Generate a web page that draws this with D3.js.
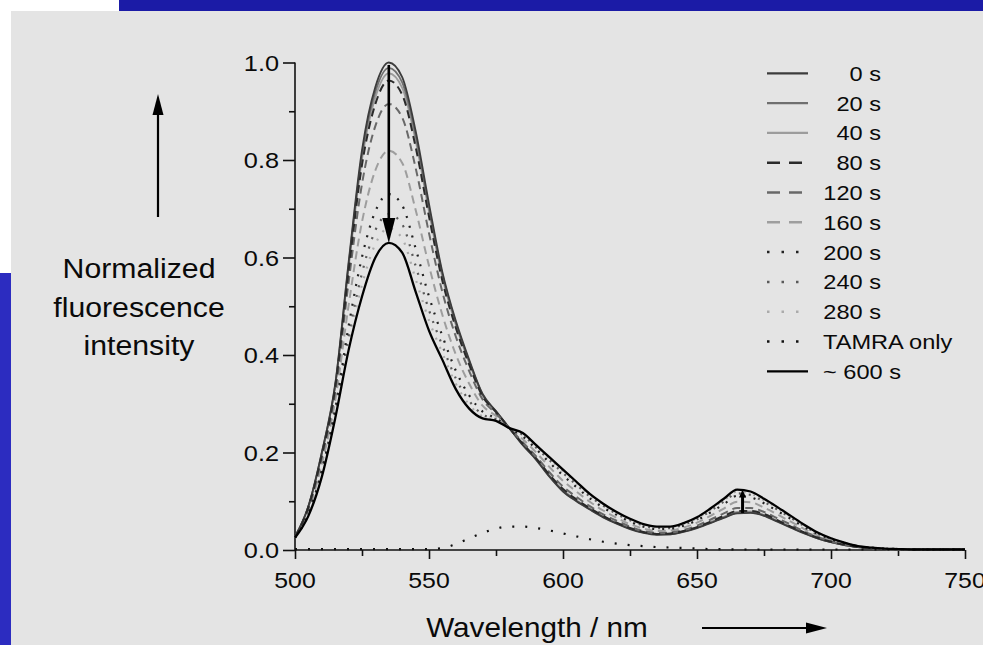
<!DOCTYPE html>
<html>
<head>
<meta charset="utf-8">
<script src="https://cdn.jsdelivr.net/npm/d3@7/dist/d3.min.js"></script>
<style>
  html, body { margin: 0; padding: 0; background: #ffffff; }
  svg { display: block; }
  text { font-family: "Liberation Sans", Arial, Helvetica, sans-serif; fill: #0a0a0a; }
</style>
</head>
<body>
<svg id="chart" width="983" height="645"></svg>
<script>
// ---------------- DATA ----------------
const wavelengths = [500,505,510,515,520,525,530,535,540,545,
                     550,555,560,565,570,575,580,585,590,595,
                     600,605,610,615,620,625,630,635,640,645,
                     650,655,660,665,670,675,680,685,690,695,
                     700,705,710,715,720,725,730,735,740,745,750];

const s0 = [0.027,0.090,0.200,0.340,0.590,0.820,0.950,1.000,0.970,0.860,
            0.710,0.570,0.470,0.390,0.320,0.285,0.250,0.215,0.185,0.150,
            0.120,0.100,0.083,0.067,0.054,0.043,0.035,0.031,0.032,0.037,
            0.045,0.055,0.066,0.075,0.076,0.070,0.058,0.046,0.034,0.024,
            0.016,0.010,0.006,0.004,0.002,0.001,0.001,0.001,0.001,0.001,0.001];
const s20 = [0.027,0.089,0.199,0.338,0.585,0.811,0.940,0.989,0.959,0.850,
             0.702,0.565,0.466,0.387,0.319,0.284,0.250,0.216,0.186,0.151,
             0.121,0.101,0.084,0.068,0.055,0.044,0.036,0.032,0.032,0.038,
             0.046,0.056,0.067,0.076,0.077,0.071,0.059,0.047,0.035,0.024,
             0.016,0.010,0.006,0.004,0.002,0.001,0.001,0.001,0.001,0.001,0.001];
const s40 = [0.027,0.089,0.197,0.336,0.579,0.802,0.929,0.978,0.948,0.840,
             0.694,0.559,0.462,0.384,0.317,0.284,0.250,0.217,0.187,0.152,
             0.123,0.102,0.085,0.069,0.055,0.044,0.036,0.032,0.033,0.038,
             0.046,0.057,0.068,0.078,0.079,0.072,0.060,0.047,0.035,0.025,
             0.016,0.010,0.006,0.004,0.002,0.001,0.001,0.001,0.001,0.001,0.001];
const s80 = [0.027,0.088,0.195,0.333,0.572,0.790,0.915,0.963,0.934,0.827,
             0.684,0.552,0.456,0.380,0.315,0.283,0.250,0.218,0.188,0.154,
             0.125,0.104,0.086,0.070,0.056,0.045,0.037,0.033,0.034,0.039,
             0.047,0.058,0.070,0.080,0.080,0.074,0.061,0.048,0.036,0.025,
             0.017,0.011,0.006,0.004,0.002,0.001,0.001,0.001,0.001,0.001,0.001];
const s120 = [0.027,0.085,0.189,0.324,0.549,0.751,0.870,0.915,0.887,0.784,
              0.650,0.529,0.438,0.367,0.309,0.280,0.250,0.221,0.192,0.159,
              0.130,0.109,0.090,0.073,0.060,0.048,0.039,0.035,0.036,0.041,
              0.050,0.062,0.075,0.086,0.086,0.078,0.065,0.052,0.038,0.027,
              0.018,0.011,0.006,0.004,0.002,0.001,0.001,0.001,0.001,0.001,0.001];
const s160 = [0.026,0.080,0.176,0.306,0.502,0.673,0.779,0.819,0.794,0.698,
              0.583,0.482,0.401,0.341,0.296,0.275,0.250,0.227,0.200,0.170,
              0.142,0.120,0.099,0.081,0.066,0.053,0.044,0.039,0.040,0.046,
              0.056,0.070,0.085,0.099,0.098,0.087,0.073,0.058,0.043,0.030,
              0.020,0.012,0.007,0.004,0.002,0.001,0.001,0.001,0.001,0.001,0.001];
const s200 = [0.026,0.075,0.164,0.289,0.459,0.601,0.695,0.730,0.707,0.619,
              0.520,0.439,0.368,0.317,0.284,0.270,0.250,0.233,0.207,0.179,
              0.153,0.129,0.106,0.087,0.072,0.058,0.048,0.043,0.044,0.050,
              0.061,0.077,0.094,0.111,0.108,0.096,0.080,0.064,0.047,0.033,
              0.022,0.014,0.007,0.005,0.003,0.002,0.001,0.001,0.001,0.001,0.001];
const s240 = [0.025,0.073,0.158,0.281,0.439,0.568,0.656,0.689,0.668,0.583,
              0.492,0.419,0.352,0.306,0.278,0.268,0.250,0.236,0.210,0.184,
              0.158,0.134,0.110,0.091,0.074,0.061,0.050,0.045,0.045,0.052,
              0.063,0.080,0.099,0.116,0.113,0.099,0.083,0.066,0.049,0.034,
              0.023,0.014,0.008,0.005,0.003,0.002,0.001,0.001,0.001,0.001,0.001];
const s280 = [0.025,0.072,0.154,0.276,0.424,0.544,0.628,0.660,0.639,0.556,
              0.471,0.404,0.341,0.298,0.274,0.267,0.250,0.238,0.213,0.187,
              0.161,0.137,0.112,0.093,0.076,0.062,0.052,0.047,0.047,0.054,
              0.065,0.083,0.102,0.120,0.116,0.102,0.086,0.068,0.051,0.035,
              0.024,0.015,0.008,0.005,0.003,0.002,0.001,0.001,0.001,0.001,0.001];
const sTamra = [0.002,0.002,0.002,0.002,0.002,0.002,0.002,0.002,0.002,0.002,
                0.002,0.004,0.012,0.024,0.035,0.044,0.048,0.048,0.045,0.040,
                0.034,0.028,0.022,0.017,0.013,0.010,0.008,0.006,0.005,0.004,
                0.003,0.002,0.002,0.001,0.001,0.001,0.001,0.001,0.001,0.001,
                0.001,0.001,0.001,0.001,0.001,0.001,0.001,0.001,0.001,0.001,0.001];
const s600 = [0.025,0.070,0.150,0.270,0.410,0.520,0.600,0.630,0.610,0.530,
              0.450,0.390,0.330,0.290,0.270,0.265,0.250,0.240,0.215,0.190,
              0.165,0.140,0.115,0.095,0.078,0.064,0.053,0.048,0.048,0.055,
              0.067,0.085,0.105,0.124,0.120,0.105,0.088,0.070,0.052,0.036,
              0.024,0.015,0.008,0.005,0.003,0.002,0.001,0.001,0.001,0.001,0.001];

const seriesNames = ["0 s","20 s","40 s","80 s","120 s","160 s","200 s","240 s","280 s","TAMRA only","~ 600 s"];
const seriesValues = [s0,s20,s40,s80,s120,s160,s200,s240,s280,sTamra,s600];

const xTickValues = [500,550,600,650,700,750];
const xMinorTicks = [525,575,625,675,725];
const yTickValues = [0.0,0.2,0.4,0.6,0.8,1.0];
const yMinorTicks = [0.1,0.3,0.5,0.7,0.9];
const yTickLabels = ["0.0","0.2","0.4","0.6","0.8","1.0"];
const xTickLabels = ["500","550","600","650","700","750"];

// arrows in data units (wavelength, start value, end value)
const peakArrow = {w: 535, from: 0.995, to: 0.63};
const redArrow  = {w: 667, from: 0.076, to: 0.124};

// ---------------- STYLES ----------------
const styles = [
  {color:"#3c3c3c", type:"solid",  width:1.8},
  {color:"#6f6f6f", type:"solid",  width:1.8},
  {color:"#9c9c9c", type:"solid",  width:1.8},
  {color:"#2a2a2a", type:"dash",   width:2.0},
  {color:"#686868", type:"dash",   width:2.0},
  {color:"#9e9e9e", type:"dash",   width:2.0},
  {color:"#222222", type:"dot",    width:2.2},
  {color:"#5a5a5a", type:"dot",    width:2.2},
  {color:"#ababab", type:"dot",    width:2.2},
  {color:"#111111", type:"tdot",   width:2.2},
  {color:"#000000", type:"solid",  width:2.3}
];
const curveDash = {solid:null, dash:"8,5", dot:"2,8", tdot:"2,11"};
const legendDash = {solid:null, dash:"13,9", dot:"2.5,12", tdot:"2.5,12"};

// ---------------- DRAW ----------------
const svg = d3.select("#chart");
const FONT_SX = 1.15;

function stext(g, x, y, str, size, anchor, sx) {
  return g.append("text")
    .attr("transform", `translate(${x},${y}) scale(${sx},1)`)
    .attr("text-anchor", anchor)
    .style("font-size", size + "px")
    .text(str);
}

// page frame
svg.append("rect").attr("x",0).attr("y",0).attr("width",983).attr("height",645).attr("fill","#ffffff");
svg.append("rect").attr("x",119).attr("y",0).attr("width",864).attr("height",11).attr("fill","#1b1ba6");
svg.append("rect").attr("x",0).attr("y",273).attr("width",11).attr("height",372).attr("fill","#2c2cc0");
svg.append("rect").attr("x",11).attr("y",11).attr("width",972).attr("height",634).attr("fill","#e4e4e4");

const x = d3.scaleLinear().domain([500,750]).range([295,965]);
const y = d3.scaleLinear().domain([0,1]).range([550,62.5]);

// axes
const axG = svg.append("g");
const yAxis = d3.axisLeft(y).tickValues(yTickValues).tickSize(12).tickFormat("");
const yAxisMinor = d3.axisLeft(y).tickValues(yMinorTicks).tickSize(6).tickFormat("");
const xAxis = d3.axisBottom(x).tickValues(xTickValues).tickSize(9).tickFormat("");
const xAxisMinor = d3.axisBottom(x).tickValues(xMinorTicks).tickSize(6).tickFormat("");

const gy = axG.append("g").attr("transform", `translate(${x(500)},0)`).call(yAxis);
const gym = axG.append("g").attr("transform", `translate(${x(500)},0)`).call(yAxisMinor);
const gx = axG.append("g").attr("transform", `translate(0,${y(0)})`).call(xAxis);
const gxm = axG.append("g").attr("transform", `translate(0,${y(0)})`).call(xAxisMinor);
[gy,gym,gx,gxm].forEach(g => {
  g.selectAll("path.domain").attr("stroke","#111").attr("stroke-width",1.6);
  g.selectAll(".tick line").attr("stroke","#111").attr("stroke-width",1.6);
});
gym.select("path.domain").remove();
gxm.select("path.domain").remove();
// y axis domain: plain vertical line
gy.select("path.domain").attr("d", `M0,${y(1)}V${y(0)}`);
gx.select("path.domain").attr("d", `M${x(500)},0H${x(750)}`);

// tick labels
yTickValues.forEach((v,i) => stext(axG, x(500)-16, y(v)+8, yTickLabels[i], 22, "end", FONT_SX));
xTickValues.forEach((v,i) => stext(axG, x(v), 588, xTickLabels[i], 22, "middle", 1.13));

// curves
const line = d3.line()
  .x((d,i) => x(wavelengths[i]))
  .y(d => y(d))
  .curve(d3.curveMonotoneX);

const curveG = svg.append("g");
const order = [2,1,0,5,4,3,8,7,6,9,10];
order.forEach(k => {
  const st = styles[k];
  curveG.append("path")
    .attr("d", line(seriesValues[k]))
    .attr("fill","none")
    .attr("stroke", st.color)
    .attr("stroke-width", st.width)
    .attr("stroke-dasharray", curveDash[st.type])
    .attr("stroke-linejoin","round");
});

// arrows on the curves
function vArrow(g, a, headLen, headW, sw) {
  const xp = x(a.w), y0 = y(a.from), y1 = y(a.to);
  const dir = y1 > y0 ? 1 : -1;
  g.append("line").attr("x1",xp).attr("x2",xp).attr("y1",y0).attr("y2",y1 - dir*headLen*0.8)
    .attr("stroke","#000").attr("stroke-width",sw);
  g.append("path")
    .attr("d", `M${xp},${y1} L${xp-headW/2},${y1-dir*headLen} L${xp+headW/2},${y1-dir*headLen} Z`)
    .attr("fill","#000");
}
vArrow(svg, peakArrow, 25, 13, 2.6);
vArrow(svg, redArrow, 8, 7, 3);

// legend
const legG = svg.append("g");
const legY0 = 73.3, legStep = 29.8;
seriesNames.forEach((name,i) => {
  const st = styles[i];
  const cy = legY0 + i*legStep;
  const ld = legendDash[st.type];
  legG.append("line")
    .attr("x1",767).attr("x2", st.type==="solid" ? 808 : 802)
    .attr("y1",cy).attr("y2",cy)
    .attr("stroke", st.color)
    .attr("stroke-width", st.type==="solid" ? 2.3 : 2.5)
    .attr("stroke-dasharray", ld);
  const leftAligned = (i >= 9);
  stext(legG, leftAligned ? 823 : 881, cy + 7.5, name, 20, leftAligned ? "start" : "end", 1.18);
});

// axis titles
const yt = svg.append("g");
stext(yt, 139, 278, "Normalized", 27, "middle", 1.12);
stext(yt, 139, 317, "fluorescence", 27, "middle", 1.12);
stext(yt, 139, 355, "intensity", 27, "middle", 1.12);
stext(svg, 537, 637, "Wavelength / nm", 27, "middle", 1.1);

// decorative direction arrows
svg.append("line").attr("x1",158).attr("x2",158).attr("y1",217).attr("y2",110)
  .attr("stroke","#000").attr("stroke-width",2.2);
svg.append("path").attr("d","M158,94 L152.5,115 L163.5,115 Z").attr("fill","#000");
svg.append("line").attr("x1",702).attr("x2",810).attr("y1",628).attr("y2",628)
  .attr("stroke","#000").attr("stroke-width",2.2);
svg.append("path").attr("d","M827,628 L806,622.5 L806,633.5 Z").attr("fill","#000");
</script>
</body>
</html>
